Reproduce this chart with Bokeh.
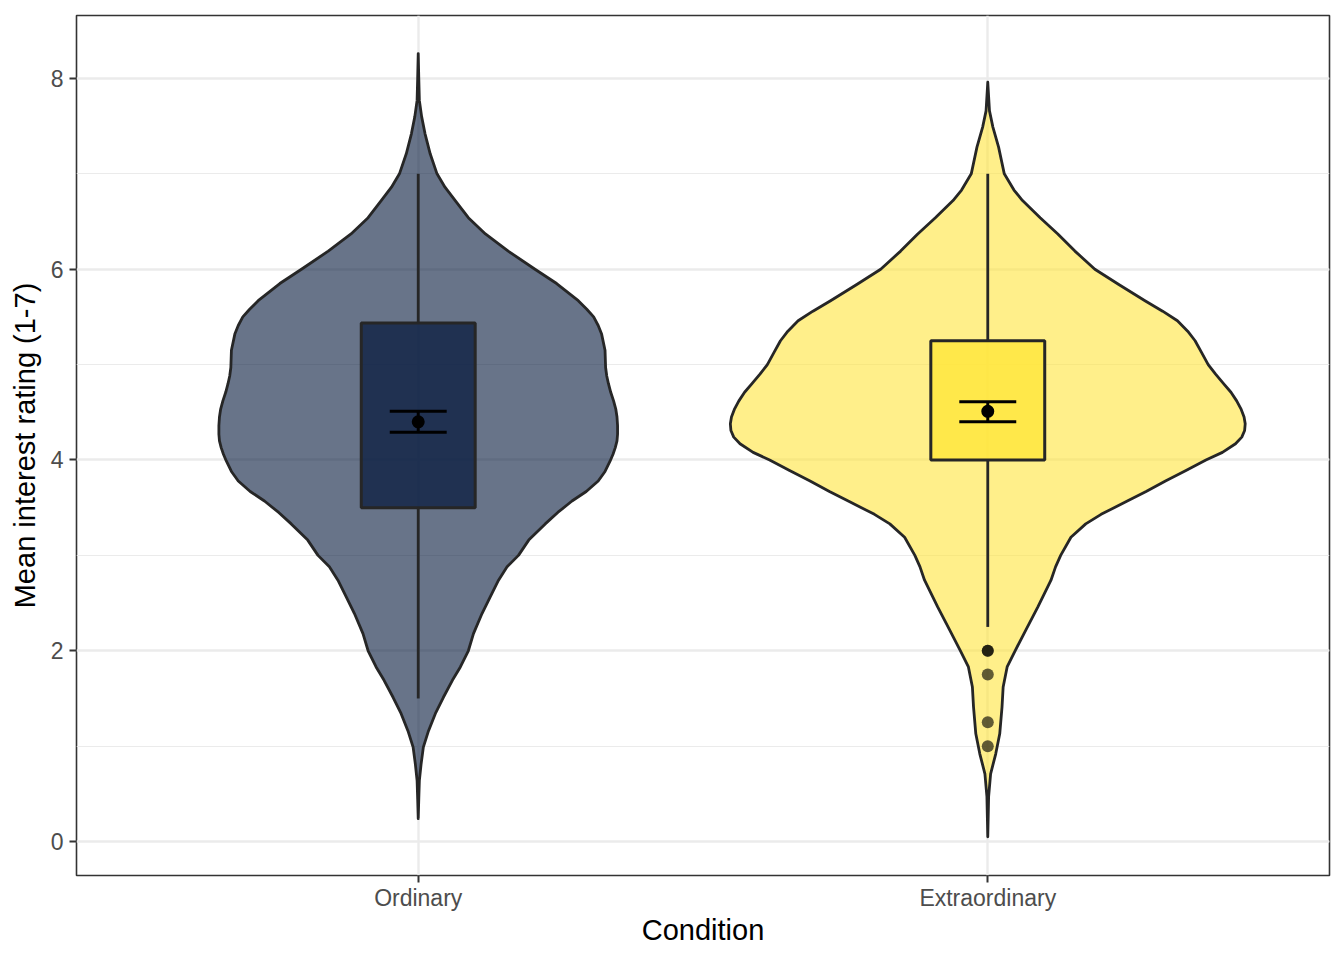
from bokeh.plotting import figure
from bokeh.models import FixedTicker, SingleIntervalTicker
from bokeh.embed import file_html
from bokeh.resources import INLINE

# ---------------- data ----------------
categories = ["Ordinary", "Extraordinary"]
positions = [1, 2]

violin_colors = ["#03173A", "#FFE43C"]
box_colors = ["#0E2044", "#FFE63A"]

q1 = [3.5, 4.0]
q3 = [5.4375, 5.25]
whisker_low = [1.5, 2.25]
whisker_high = [7.0, 7.0]
means = [4.40, 4.51]
se_low = [4.29, 4.40]
se_high = [4.51, 4.61]

outlier_pos = [2, 2, 2, 2, 2]
outlier_vals = [2.0, 2.0, 1.75, 1.25, 1.0]

# violin profiles: y value and half width (x units)
ord_y = [8.26, 8.0, 7.77, 7.6, 7.42, 7.21, 7.0, 6.86, 6.72, 6.54, 6.37, 6.19,
         6.0, 5.85, 5.67, 5.58, 5.50, 5.41, 5.32, 5.15, 4.97, 4.88, 4.80, 4.71, 4.62,
         4.53, 4.45, 4.36, 4.27, 4.20, 4.13, 4.06,
         3.99, 3.88, 3.78, 3.67, 3.57, 3.45, 3.33, 3.16, 3.0, 2.88, 2.74, 2.56, 2.39, 2.18, 2.0,
         1.83, 1.69, 1.51, 1.34, 1.16, 0.99, 0.81, 0.64, 0.45, 0.24]
ord_hw = [0.0, 0.001, 0.002, 0.006, 0.012, 0.021, 0.033, 0.047, 0.065, 0.088, 0.118, 0.158,
          0.205, 0.243, 0.281, 0.296, 0.308, 0.316, 0.322, 0.328, 0.329, 0.331, 0.334, 0.338, 0.343,
          0.347, 0.349, 0.350, 0.350, 0.349, 0.346, 0.342,
          0.337, 0.328, 0.316, 0.295, 0.270, 0.245, 0.223, 0.194, 0.176, 0.156, 0.141, 0.126, 0.112, 0.097, 0.088,
          0.074, 0.060, 0.044, 0.030, 0.018, 0.009, 0.005, 0.002, 0.001, 0.0]

ext_y = [7.96, 7.66, 7.49, 7.28, 7.0, 6.83, 6.72, 6.54, 6.37, 6.19, 6.0, 5.84,
         5.67, 5.56, 5.46, 5.35, 5.25, 5.12, 5.0, 4.90, 4.80, 4.71, 4.62, 4.53, 4.45, 4.38, 4.31,
         4.24, 4.17, 4.08, 4.0, 3.89, 3.78, 3.67, 3.57,
         3.43, 3.33, 3.19, 3.0, 2.88, 2.74, 2.46, 2.22, 2.0, 1.83, 1.62, 1.41,
         1.13, 0.92, 0.71, 0.47, 0.05]
ext_hw = [0.0, 0.003, 0.009, 0.019, 0.029, 0.046, 0.061, 0.092, 0.123, 0.153, 0.188, 0.230,
          0.276, 0.307, 0.333, 0.351, 0.364, 0.376, 0.387, 0.400, 0.414, 0.427, 0.437, 0.445, 0.450, 0.452, 0.451,
          0.446, 0.435, 0.412, 0.383, 0.348, 0.312, 0.278, 0.245,
          0.199, 0.172, 0.146, 0.128, 0.119, 0.111, 0.088, 0.067, 0.048, 0.034, 0.027, 0.025,
          0.021, 0.014, 0.005, 0.0015, 0.0]

profiles = [(ord_y, ord_hw), (ext_y, ext_hw)]

# ---------------- figure ----------------
FONT = "Liberation Sans"
p = figure(width=1336, height=952, x_range=(0.4, 2.6), y_range=(-0.356, 8.66),
           output_backend="svg", toolbar_location=None,
           min_border_left=76, min_border_right=7, min_border_top=15, min_border_bottom=77)

p.background_fill_color = "white"
p.border_fill_color = "white"
p.outline_line_color = "#333333"
p.outline_line_width = 1.6

# grids
p.xgrid.grid_line_color = "#EBEBEB"
p.xgrid.grid_line_width = 2.4
p.ygrid.grid_line_color = "#EBEBEB"
p.ygrid.grid_line_width = 2.4
p.ygrid.minor_grid_line_color = "#EBEBEB"
p.ygrid.minor_grid_line_width = 1.2

# axes
p.xaxis.ticker = FixedTicker(ticks=positions)
p.xaxis.major_label_overrides = {pos: cat for pos, cat in zip(positions, categories)}
p.yaxis.ticker = SingleIntervalTicker(interval=2, num_minor_ticks=2)
p.ygrid.ticker = p.yaxis.ticker
p.xgrid.ticker = p.xaxis.ticker

for ax in (p.xaxis[0], p.yaxis[0]):
    ax.axis_line_color = None
    ax.major_tick_line_color = "#333333"
    ax.major_tick_line_width = 2.0
    ax.major_tick_out = 7
    ax.major_tick_in = 0
    ax.minor_tick_line_color = None
    ax.major_label_text_font = FONT
    ax.major_label_text_font_size = "23px"
    ax.major_label_text_color = "#4D4D4D"
    ax.axis_label_text_font = FONT
    ax.axis_label_text_font_size = "29px"
    ax.axis_label_text_font_style = "normal"
    ax.axis_label_text_color = "black"

p.xaxis.axis_label = "Condition"
p.yaxis.axis_label = "Mean interest rating (1-7)"
p.xaxis.major_label_standoff = 2
p.xaxis.axis_label_standoff = 0
p.yaxis.major_label_standoff = 6
p.yaxis.axis_label_standoff = 7

# violins
for pos, (ys, hws), col in zip(positions, profiles, violin_colors):
    xs = [pos - h for h in hws] + [pos + h for h in reversed(hws)]
    yy = list(ys) + list(reversed(ys))
    p.patch(xs, yy, fill_color=col, fill_alpha=0.6, line_color="#262626",
            line_width=2.8, line_join="round")

# boxes
box_half = 0.1
p.quad(left=[x - box_half for x in positions], right=[x + box_half for x in positions],
       bottom=q1, top=q3, fill_color=box_colors, fill_alpha=0.8,
       line_color="#262626", line_width=3.0)

# whiskers
p.segment(x0=positions, y0=q3, x1=positions, y1=whisker_high, line_color="#262626", line_width=2.8)
p.segment(x0=positions, y0=q1, x1=positions, y1=whisker_low, line_color="#262626", line_width=2.8)

# outliers
p.scatter(outlier_pos, outlier_vals, size=12, fill_color="black", fill_alpha=0.62,
          line_color=None)

# error bars (mean +/- se)
cap = 0.05
p.segment(x0=positions, y0=se_low, x1=positions, y1=se_high, line_color="black", line_width=3.0)
p.segment(x0=[x - cap for x in positions], y0=se_low, x1=[x + cap for x in positions], y1=se_low,
          line_color="black", line_width=3.0)
p.segment(x0=[x - cap for x in positions], y0=se_high, x1=[x + cap for x in positions], y1=se_high,
          line_color="black", line_width=3.0)

# means
p.scatter(positions, means, size=13, fill_color="black", line_color=None)

open("out.html", "w").write(file_html(p, INLINE))
